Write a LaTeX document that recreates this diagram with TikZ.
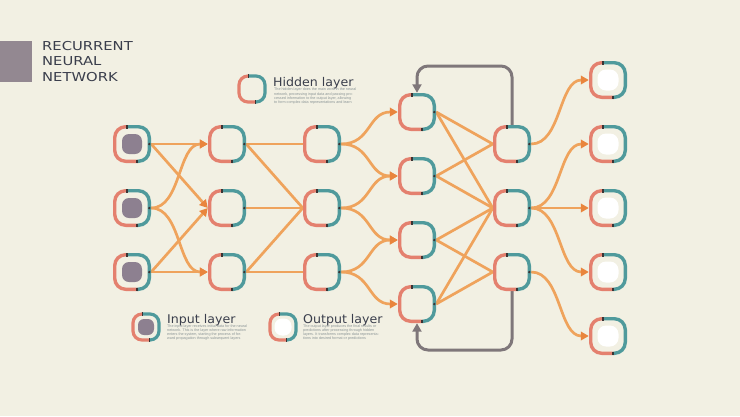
\documentclass[tikz,border=0pt]{standalone}
\usepackage{fontspec}
\setmainfont{DejaVu Sans}
\newfontfamily\ttlfont[FakeStretch=1.2]{DejaVu Sans}
\newfontfamily\lgfont[FakeStretch=1.05]{DejaVu Sans}
\newfontfamily\descfont{Liberation Sans}
\usetikzlibrary{arrows.meta,calc}
\definecolor{bgc}{HTML}{F2F0E3}
\definecolor{salmonc}{HTML}{E4806E}
\definecolor{tealc}{HTML}{4F9A9C}
\definecolor{tickc}{HTML}{3A3434}
\definecolor{lineor}{HTML}{EFA35C}
\definecolor{arrowor}{HTML}{E9853D}
\definecolor{loopc}{HTML}{7F777A}
\definecolor{innerg}{HTML}{8D8090}
\definecolor{sqc}{HTML}{938891}
\definecolor{titlec}{HTML}{3A3E4C}
\definecolor{descc}{HTML}{8A9496}
\newcommand\rnnframe[5]{%
 \draw[salmonc, line width=#5, rounded corners=#3]
   ($(#1.center)+(-#4,-#2)$) -- ($(#1.center)+(-#2,-#2)$) -- ($(#1.center)+(-#2,#2)$) -- ($(#1.center)+(#4,#2)$);
 \draw[tealc, line width=#5, rounded corners=#3]
   ($(#1.center)+(-#4,-#2)$) -- ($(#1.center)+(#2,-#2)$) -- ($(#1.center)+(#2,#2)$) -- ($(#1.center)+(#4,#2)$);
 \fill[tickc] ($(#1.center)+(-#4,-#2)+(-0.8,-1.8)$) rectangle ($(#1.center)+(-#4,-#2)+(0.8,1.8)$);
 \fill[tickc] ($(#1.center)+(#4,#2)+(-0.8,-1.8)$) rectangle ($(#1.center)+(#4,#2)+(0.8,1.8)$);
}
\begin{document}
\begin{tikzpicture}[x=1pt,y=-1pt,
  nn/.style={minimum size=38pt, inner sep=0pt, draw=none},
  lg/.style={minimum size=29pt, inner sep=0pt, draw=none},
  conn/.style={draw=lineor, line width=2.7pt},
  conna/.style={conn, -{Triangle[length=8pt,width=8.5pt,color=arrowor]}},
  fb/.style={draw=loopc, line width=3pt, rounded corners=11pt, -{Triangle[length=8.5pt,width=9pt]}},
  lgtitle/.style={anchor=base west, inner sep=0pt, text=titlec, font=\lgfont\fontsize{12}{14}\selectfont},
  desc/.style={anchor=north west, inner sep=0pt, align=left, text=descc, font=\descfont\fontsize{3.7}{4.2}\selectfont}
]
\fill[bgc] (0,0) rectangle (740,416);
\useasboundingbox (0,0) rectangle (740,416);

% title
\fill[sqc] (0,41) rectangle (32,82);
\node[anchor=north west, inner sep=0pt, align=left, text=titlec, font=\ttlfont\fontsize{12.3}{15.5}\selectfont] (title) at (42,41) {RECURRENT\\NEURAL\\NETWORK};

% nodes
\node[nn] (in1) at (132,144) {};
\node[nn] (in2) at (132,208) {};
\node[nn] (in3) at (132,272) {};
\node[nn] (h1a) at (227,144) {};
\node[nn] (h1b) at (227,208) {};
\node[nn] (h1c) at (227,272) {};
\node[nn] (h2a) at (322,144) {};
\node[nn] (h2b) at (322,208) {};
\node[nn] (h2c) at (322,272) {};
\node[nn] (h3a) at (417,112) {};
\node[nn] (h3b) at (417,176) {};
\node[nn] (h3c) at (417,240) {};
\node[nn] (h3d) at (417,304) {};
\node[nn] (h4a) at (512,144) {};
\node[nn] (h4b) at (512,208) {};
\node[nn] (h4c) at (512,272) {};
\node[nn] (o1) at (608,80) {};
\node[nn] (o2) at (608,144) {};
\node[nn] (o3) at (608,208) {};
\node[nn] (o4) at (608,272) {};
\node[nn] (o5) at (608,336) {};

% legend icons
\node[lg] (lgh) at (252,89) {};
\node[lg] (lgi) at (146,327) {};
\node[lg] (lgo) at (283,327) {};

% input -> hidden 1
\draw[conna] (in1.east) -- (h1a.west);
\draw[conna] (in1.east) -- (h1b.west);
\draw[conna] (in3.east) -- (h1b.west);
\draw[conna] (in3.east) -- (h1c.west);
\draw[conna] (in2.east) .. controls +(30,0) and +(-30,0) .. (h1a.west);
\draw[conna] (in2.east) .. controls +(30,0) and +(-30,0) .. (h1c.west);

% hidden 1 -> hidden 2
\draw[conn] (h1a.east) -- (h2a.west);
\draw[conn] (h1a.east) -- (h2b.west);
\draw[conn] (h1b.east) -- (h2b.west);
\draw[conn] (h1c.east) -- (h2b.west);
\draw[conn] (h1c.east) -- (h2c.west);

% hidden 2 -> hidden 3
\draw[conna] (h2a.east) .. controls +(30,0) and +(-30,0) .. (h3a.west);
\draw[conna] (h2a.east) .. controls +(30,0) and +(-30,0) .. (h3b.west);
\draw[conna] (h2b.east) .. controls +(30,0) and +(-30,0) .. (h3b.west);
\draw[conna] (h2b.east) .. controls +(30,0) and +(-30,0) .. (h3c.west);
\draw[conna] (h2c.east) .. controls +(30,0) and +(-30,0) .. (h3c.west);
\draw[conna] (h2c.east) .. controls +(30,0) and +(-30,0) .. (h3d.west);

% hidden 3 -> hidden 4
\draw[conn] (h3a.east) -- (h4a.west);
\draw[conn] (h3a.east) -- (h4b.west);
\draw[conn] (h3b.east) -- (h4a.west);
\draw[conn] (h3b.east) -- (h4b.west);
\draw[conn] (h3c.east) -- (h4b.west);
\draw[conn] (h3c.east) -- (h4c.west);
\draw[conn] (h3d.east) -- (h4b.west);
\draw[conn] (h3d.east) -- (h4c.west);

% hidden 4 -> output
\draw[conna] (h4a.east) .. controls +(30,0) and +(-30,0) .. (o1.west);
\draw[conna] (h4b.east) .. controls +(30,0) and +(-30,0) .. (o2.west);
\draw[conna] (h4b.east) -- (o3.west);
\draw[conna] (h4b.east) .. controls +(30,0) and +(-30,0) .. (o4.west);
\draw[conna] (h4c.east) .. controls +(30,0) and +(-30,0) .. (o5.west);

% recurrent loops
\coordinate (looptop) at (465,66);
\coordinate (loopbot) at (465,350);
\draw[fb] (h4a.north) |- (looptop) -| (h3a.north);
\draw[fb] (h4c.south) |- (loopbot) -| (h3d.south);

% frames
\foreach \n in {in1,in2,in3,h1a,h1b,h1c,h2a,h2b,h2c,h3a,h3b,h3c,h3d,h4a,h4b,h4c,o1,o2,o3,o4,o5}
  {\rnnframe{\n}{17.3}{11pt}{5}{3.4pt}}
\foreach \n in {lgh,lgi,lgo}
  {\rnnframe{\n}{13}{9pt}{3.5}{3.2pt}}

% exit dots
\foreach \n in {in1,in2,in3,h1a,h1b,h1c,h2a,h2b,h2c,h3a,h3b,h3c,h3d,h4a,h4b,h4c}
  {\fill[tickc] ($(\n.center)+(17.3,0)$) circle (1.3);}

% inner fills
\foreach \n in {in1,in2,in3}
  {\fill[innerg, rounded corners=7pt] ($(\n.center)+(-10,-10)$) rectangle ($(\n.center)+(10,10)$);}
\foreach \n in {o1,o2,o3,o4,o5}
  {\fill[white, rounded corners=8.5pt] ($(\n.center)+(-10.5,-10.5)$) rectangle ($(\n.center)+(10.5,10.5)$);}
\fill[innerg, rounded corners=6pt] ($(lgi.center)+(-8,-8)$) rectangle ($(lgi.center)+(8,8)$);
\fill[white, rounded corners=7.5pt] ($(lgo.center)+(-8.5,-8.5)$) rectangle ($(lgo.center)+(8.5,8.5)$);

% legend texts
\node[lgtitle] (th) at (273,86) {Hidden layer};
\node[desc] (dh) at (274,88) {The hidden layer does the main work in the neural\\network, processing input data and passing pro-\\cessed information to the output layer, allowing\\to form complex data representations and learn};
\node[lgtitle] (ti) at (167,323) {Input layer};
\node[desc] (di) at (167,324.5) {The input layer receives initial data for the neural\\network. This is the layer where raw information\\enters the system, starting the process of for-\\ward propagation through subsequent layers};
\node[lgtitle] (to) at (303,323) {Output layer};
\node[desc] (do) at (303,324.5) {The output layer produces the final results or\\predictions after processing through hidden\\layers. It transforms complex data representa-\\tions into desired format or predictions};
\end{tikzpicture}
\end{document}
